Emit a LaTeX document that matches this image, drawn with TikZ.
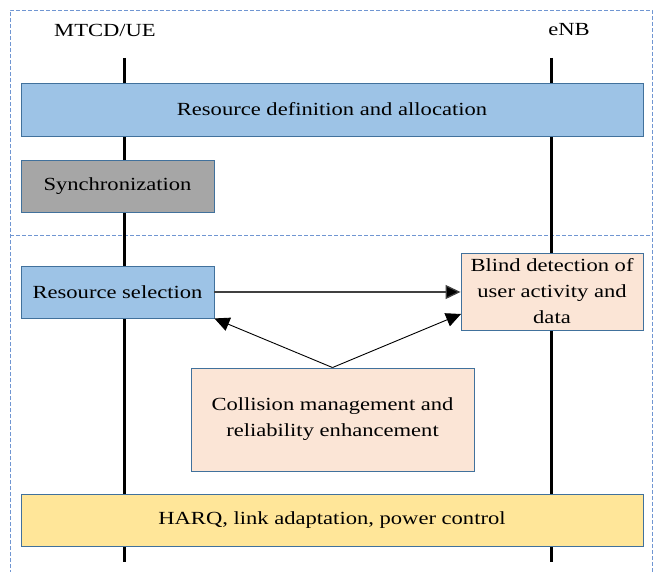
\documentclass[tikz,border=0pt]{standalone}
\usepackage{fontspec}
\setmainfont{Liberation Serif}[FakeStretch=1.22]
\usetikzlibrary{arrows.meta}
\definecolor{boxline}{HTML}{41719C}
\definecolor{frameline}{HTML}{7096D2}
\definecolor{bluefill}{HTML}{9DC3E6}
\definecolor{grayfill}{HTML}{A6A6A6}
\definecolor{peachfill}{HTML}{FBE5D6}
\definecolor{yellowfill}{HTML}{FFE699}

\begin{document}
\begin{tikzpicture}[x=1pt, y=-1pt,
        every node/.style={font=\fontsize{18.5}{26}\selectfont, inner sep=0pt},
        blk/.style={draw=boxline, line width=0.9pt, rectangle, align=center},
        frame/.style={draw=frameline, line width=0.8pt, dash pattern=on 4pt off 2pt},
        tip/.style={-{Triangle[length=15pt, width=14pt, fill=black]}}]
                \useasboundingbox (0,0) rectangle (654,572);
                \draw[frame] (10,580) -- (10,10) -- (652,10) -- (652,580);
                \draw[frame] (10,235) -- (652,235);
                \node (ue) at (105,30) {MTCD/UE};
                \node (enb) at (569,30) {eNB};
                \coordinate (uetop) at (124,58);
                \coordinate (uebot) at (124,562);
                \coordinate (enbtop) at (551,58);
                \coordinate (enbbot) at (551,562);
                \draw[line width=3pt] (uetop) -- (uebot);
                \draw[line width=3pt] (enbtop) -- (enbbot);
                \node[blk, fill=bluefill, minimum width=622pt, minimum height=53pt] (rda) at (332,109.5) {Resource definition and allocation};
                \node[blk, fill=grayfill, minimum width=193pt, minimum height=52pt] (sync) at (117.5,186) {Synchronization};
                \node[blk, fill=bluefill, minimum width=193pt, minimum height=52pt] (rsel) at (117.5,292) {Resource selection};
                \node[blk, fill=peachfill, minimum width=182pt, minimum height=77pt] (blind) at (552,291.5) {Blind detection of\\user activity and\\data};
                \node[blk, fill=peachfill, minimum width=283pt, minimum height=103pt] (coll) at (332.5,419.5) {Collision management and\\reliability enhancement};
                \node[blk, fill=yellowfill, minimum width=622pt, minimum height=52pt] (harq) at (332,520) {HARQ, link adaptation, power control};
                \coordinate (blindin) at (461,314);
                \draw[tip, line width=1.3pt, draw=black!75] (rsel.east) -- (rsel.east -| blind.west);
                \draw[tip, line width=0.9pt] (coll.north) -- (rsel.south east);
                \draw[tip, line width=0.9pt] (coll.north) -- (blindin);
\end{tikzpicture}
\end{document}
